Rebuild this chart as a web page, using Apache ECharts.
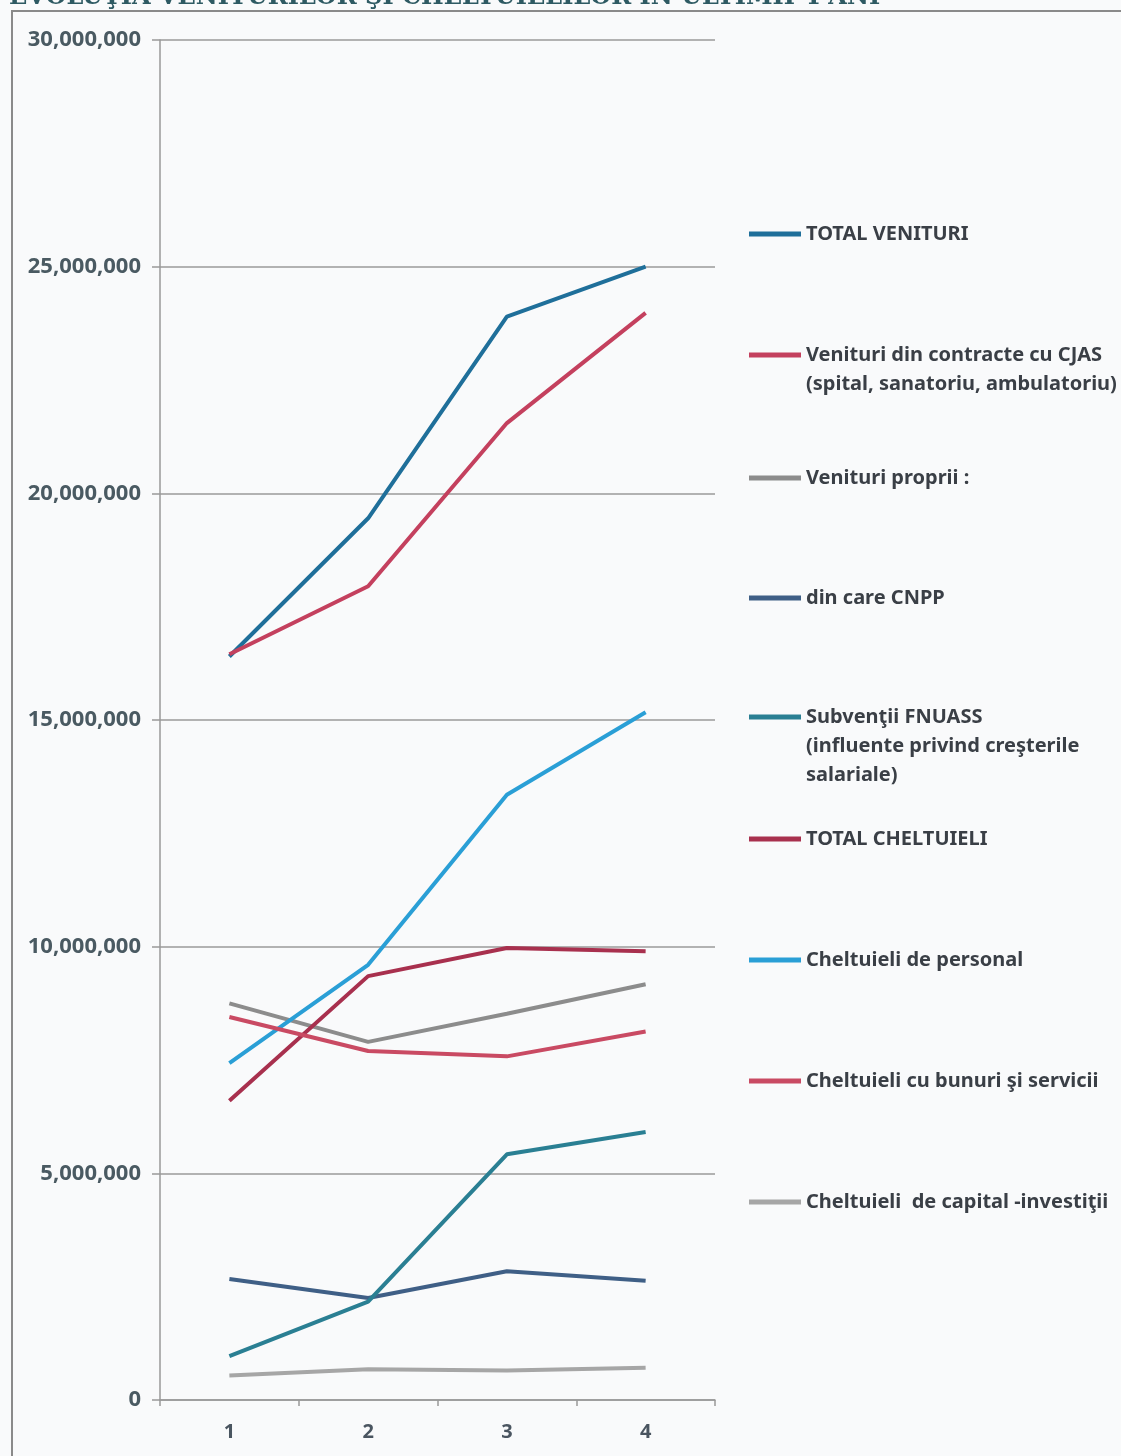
<!DOCTYPE html>
<html>
<head>
<meta charset="utf-8">
<script src="https://cdn.jsdelivr.net/npm/echarts@6/dist/echarts.min.js"></script>
<style>
html,body{margin:0;padding:0;background:#f9fafb;}
#c{width:1121px;height:1456px;}
</style>
</head>
<body>
<div id="c"></div>
<script>
var categories = ['1', '2', '3', '4'];
var yTicks = [0, 5000000, 10000000, 15000000, 20000000, 25000000, 30000000];

var totalVenituri   = [16400000, 19450000, 23900000, 25000000];
var venituriCJAS    = [16450000, 17950000, 21550000, 23980000];
var venituriProprii = [8750000, 7900000, 8520000, 9170000];
var dinCareCNPP     = [2670000, 2250000, 2840000, 2630000];
var subventiiFNUASS = [970000, 2170000, 5420000, 5910000];
var totalCheltuieli = [6600000, 9350000, 9970000, 9900000];
var cheltPersonal   = [7430000, 9600000, 13350000, 15170000];
var cheltBunuri     = [8450000, 7700000, 7580000, 8130000];
var cheltCapital    = [540000, 680000, 650000, 710000];

var seriesNames = [
  'TOTAL VENITURI',
  'Venituri din contracte cu CJAS\n(spital, sanatoriu, ambulatoriu)',
  'Venituri proprii :',
  'din care CNPP',
  'Subvenţii FNUASS\n(influente privind creşterile\nsalariale)',
  'TOTAL CHELTUIELI',
  'Cheltuieli de personal',
  'Cheltuieli cu bunuri şi servicii',
  'Cheltuieli  de capital -investiţii'
];
var seriesData = [totalVenituri, venituriCJAS, venituriProprii, dinCareCNPP, subventiiFNUASS,
                  totalCheltuieli, cheltPersonal, cheltBunuri, cheltCapital];
var colors = ['#1f6f9a', '#c4405e', '#8c8c8c', '#3f5f86', '#2a7f93',
              '#a8304e', '#2a9fd6', '#c94a63', '#a6a6a6'];
var legendIconY = [229, 350, 473, 593, 712, 834, 955, 1076, 1197];

var LH = 29;
var legends = seriesNames.map(function (n, i) {
  var lines = n.split('\n').length;
  var total = 2 * lines - 1;
  return {
    data: [n],
    orient: 'vertical',
    left: 744,
    top: legendIconY[i] - total * LH / 2,
    icon: 'rect',
    itemWidth: 52,
    itemHeight: 5,
    selectedMode: false,
    formatter: function (name) {
      var pre = '';
      for (var k = 1; k < lines; k++) pre += ' \n';
      return pre + name;
    },
    textStyle: {
      fontFamily: 'Noto Sans',
      fontSize: 20,
      fontWeight: 'bold',
      color: '#3a3f46',
      lineHeight: LH
    }
  };
});

var chart = echarts.init(document.getElementById('c'));
chart.setOption({
  backgroundColor: '#f9fafb',
  animation: false,
  title: {
    text: 'EVOLUŢIA VENITURILOR ŞI CHELTUIELILOR ÎN ULTIMII 4 ANI',
    left: 4,
    top: -19,
    textStyle: {fontFamily: 'DejaVu Serif', fontWeight: 'bold', fontSize: 24, color: '#2e5a63'}
  },
  graphic: [{
    type: 'rect',
    shape: {x: 12, y: 11, width: 1120, height: 1460},
    style: {fill: 'none', stroke: '#8a8a8a', lineWidth: 2}
  }],
  legend: legends,
  grid: {left: 160, right: 406, top: 40, bottom: 56},
  xAxis: {
    type: 'category',
    data: categories,
    boundaryGap: true,
    axisLine: {lineStyle: {color: '#999', width: 1.5}},
    axisTick: {show: true, length: 6, lineStyle: {color: '#999', width: 1.5}},
    axisLabel: {fontFamily: 'Noto Sans', fontSize: 20, fontWeight: 'bold', color: '#4a5560', margin: 22}
  },
  yAxis: {
    type: 'value',
    min: 0, max: 30000000, interval: 5000000,
    axisLine: {show: true, lineStyle: {color: '#999', width: 1.5}},
    axisTick: {show: true, length: 8, lineStyle: {color: '#999', width: 1.5}},
    splitLine: {lineStyle: {color: '#9a9a9a', width: 1.5}},
    axisLabel: {
      fontFamily: 'Noto Sans', fontSize: 22, fontWeight: 'bold', color: '#4a5a62', margin: 19,
      formatter: function (v) { return v.toLocaleString('en-US'); }
    }
  },
  series: seriesNames.map(function (n, i) {
    return {
      name: n,
      type: 'line',
      data: seriesData[i],
      symbol: 'none',
      color: colors[i],
      lineStyle: {width: 4, color: colors[i]}
    };
  })
});
</script>
</body>
</html>
